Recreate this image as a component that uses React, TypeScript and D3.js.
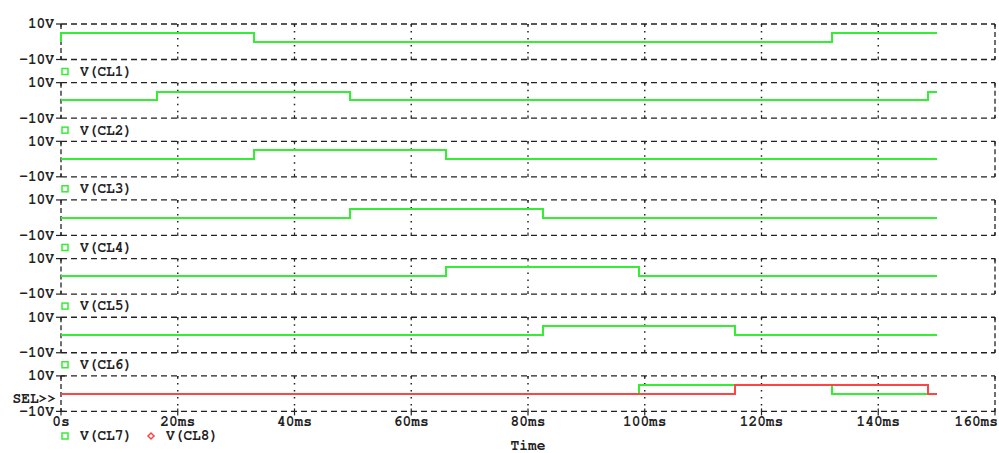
import React from 'react';
import * as d3 from 'd3';

// transition times (ms) and levels (V)
const cl1 = [[0, 0], [0, 5], [33, 0], [132, 5], [150, 5]];
const cl2 = [[0, 0], [16.5, 5], [49.5, 0], [148.5, 5], [150, 5]];
const cl3 = [[0, 0], [33, 5], [66, 0], [150, 0]];
const cl4 = [[0, 0], [49.5, 5], [82.5, 0], [150, 0]];
const cl5 = [[0, 0], [66, 5], [99, 0], [150, 0]];
const cl6 = [[0, 0], [82.5, 5], [115.5, 0], [150, 0]];
const cl7 = [[0, 0], [99, 5], [132, 0], [150, 0]];
const cl8 = [[0, 0], [115.5, 5], [148.5, 0], [150, 0]];

const xTicks = [0, 20, 40, 60, 80, 100, 120, 140, 160];
const xTickLabels = ['0s', '20ms', '40ms', '60ms', '80ms', '100ms', '120ms', '140ms', '160ms'];

const panels = [
  { traces: [{ name: 'V(CL1)', data: cl1, color: '#33ee33' }] },
  { traces: [{ name: 'V(CL2)', data: cl2, color: '#33ee33' }] },
  { traces: [{ name: 'V(CL3)', data: cl3, color: '#33ee33' }] },
  { traces: [{ name: 'V(CL4)', data: cl4, color: '#33ee33' }] },
  { traces: [{ name: 'V(CL5)', data: cl5, color: '#33ee33' }] },
  { traces: [{ name: 'V(CL6)', data: cl6, color: '#33ee33' }] },
  {
    traces: [
      { name: 'V(CL7)', data: cl7, color: '#33ee33' },
      { name: 'V(CL8)', data: cl8, color: '#ff4444' }
    ]
  }
];

const W = 999;
const H = 453;
const left = 61;
const right = 995;
const top0 = 24;
const panelH = 35.5;
const panelStep = 58.65;
const font = 'FreeMono, monospace';
const fs = 14.5;
const ink = '#222';

export default function App() {
  const x = d3.scaleLinear().domain([0, 160]).range([left, right]);

  return (
    <svg width={W} height={H} style={{ position: 'absolute', left: 0, top: 0, background: '#fff' }}>
      {panels.map((p, i) => {
        const top = top0 + i * panelStep;
        const bottom = top + panelH;
        const y = d3.scaleLinear().domain([-10, 10]).range([bottom, top]);
        const line = d3
          .line<number[]>()
          .x(d => Math.round(x(d[0])))
          .y(d => Math.round(y(d[1])))
          .curve(d3.curveStepAfter);
        const last = i === panels.length - 1;
        const legendY = last ? 436 : bottom + 12;

        return (
          <g key={i}>
            {/* dotted grid */}
            {xTicks.slice(1, -1).map(t => (
              <line
                key={t}
                x1={x(t)}
                x2={x(t)}
                y1={top}
                y2={bottom}
                stroke={ink}
                strokeWidth={1.5}
                strokeDasharray="1.5,5.5"
              />
            ))}
            {/* frame */}
            <line x1={left} x2={right} y1={top} y2={top} stroke={ink} strokeWidth={1.3} strokeDasharray="6,4" />
            <line x1={left} x2={right} y1={bottom} y2={bottom} stroke={ink} strokeWidth={1.3} strokeDasharray="6,4" />
            <line x1={left} x2={left} y1={top} y2={bottom} stroke={ink} strokeWidth={1.3} strokeDasharray="5,3" />
            <line x1={right} x2={right} y1={top} y2={bottom} stroke={ink} strokeWidth={1.3} strokeDasharray="5,3" />
            {/* y ticks */}
            {y.domain().map(v => (
              <line key={v} x1={left - 5} x2={last ? left + 4 : left} y1={y(v)} y2={y(v)} stroke={ink} strokeWidth={1.2} />
            ))}
            {xTicks.map(t => (
              <g key={t}>
                <line x1={x(t)} x2={x(t)} y1={top} y2={top + 3} stroke={ink} strokeWidth={1.2} />
                <line x1={x(t)} x2={x(t)} y1={bottom - 3} y2={last ? bottom + 4 : bottom} stroke={ink} strokeWidth={1.2} />
              </g>
            ))}
            <text x={54} y={y(10)} dy="0.3em" textAnchor="end" fontFamily={font} fontSize={fs} fontWeight="bold" fill={ink}>
              10V
            </text>
            <text x={54} y={y(-10)} dy="0.3em" textAnchor="end" fontFamily={font} fontSize={fs} fontWeight="bold" fill={ink}>
              -10V
            </text>
            {last && (
              <text x={56} y={y(-2.6)} dy="0.3em" textAnchor="end" fontFamily={font} fontSize={fs} fontWeight="bold" fill={ink}>
                SEL&gt;&gt;
              </text>
            )}
            {/* traces */}
            {p.traces.map(tr => (
              <path
                key={tr.name}
                d={line(tr.data) || ''}
                fill="none"
                stroke={tr.color}
                strokeWidth={2}
                shapeRendering="crispEdges"
              />
            ))}
            {/* legend */}
            {p.traces.map((tr, j) => {
              const lx = 65 + j * 86;
              return (
                <g key={tr.name}>
                  {j === 0 ? (
                    <rect x={lx - 3} y={legendY - 3} width={6} height={6} fill="none" stroke={tr.color} strokeWidth={1.5} />
                  ) : (
                    <path
                      d={`M${lx},${legendY - 3}L${lx + 3},${legendY}L${lx},${legendY + 3}L${lx - 3},${legendY}Z`}
                      fill="none"
                      stroke={tr.color}
                      strokeWidth={1.5}
                    />
                  )}
                  <text x={lx + 15} y={legendY} dy="0.3em" fontFamily={font} fontSize={fs} fontWeight="bold" fill={ink}>
                    {tr.name}
                  </text>
                </g>
              );
            })}
            {last &&
              xTicks.map((t, k) => (
                <text
                  key={t}
                  x={k === xTicks.length - 1 ? 998 : x(t)}
                  y={422}
                  dy="0.3em"
                  textAnchor={k === xTicks.length - 1 ? 'end' : 'middle'}
                  fontFamily={font}
                  fontSize={fs}
                  fontWeight="bold"
                  fill={ink}
                >
                  {xTickLabels[k]}
                </text>
              ))}
          </g>
        );
      })}
      <text x={x(80)} y={446} dy="0.3em" textAnchor="middle" fontFamily={font} fontSize={fs} fontWeight="bold" fill={ink}>
        Time
      </text>
    </svg>
  );
}
